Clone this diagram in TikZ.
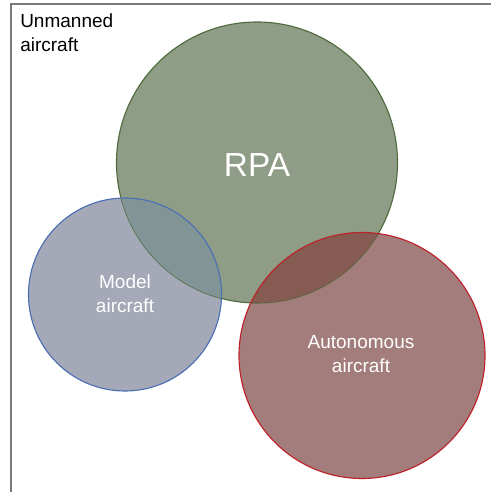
\documentclass[tikz,border=0pt]{standalone}
\usepackage{fontspec}
\setmainfont{Liberation Sans}
\begin{document}
\begin{tikzpicture}[x=0.75pt,y=-0.75pt,
  outline/.style={line width=0.85pt},
  lbl/.style={inner sep=0pt,align=center,text=white,font=\fontsize{14.25}{18}\selectfont},
  bigtxt/.style={inner sep=0pt,text=white,font=\fontsize{25}{29}\selectfont}]
  \definecolor{rpaFill}{HTML}{8F9C86}
  \definecolor{rpaLine}{HTML}{4E6B3C}
  \definecolor{modelFill}{HTML}{A5A9B7}
  \definecolor{modelLine}{HTML}{4A6FB5}
  \definecolor{autoFill}{HTML}{A37C7C}
  \definecolor{autoLine}{HTML}{BE2229}
  \definecolor{mixGreenBlue}{HTML}{7D9291}
  \definecolor{mixGreenRed}{HTML}{82574B}
  \definecolor{frameGray}{HTML}{7A7A7A}

  \useasboundingbox (0,0) rectangle (491,492);
  \clip (0,0) rectangle (491,492);

  % outer frame (runs off the right and bottom edges)
  \draw[frameGray,line width=1.5pt] (11,500) -- (11,4) -- (500,4);

  % circle fills
  \fill[rpaFill] (257,162.5) circle (140.5);
  \fill[modelFill] (125,294.5) circle (96.5);
  \fill[autoFill] (362,355.5) circle (123);

  % RPA outline sits beneath the overlap shading
  \draw[rpaLine,outline] (257,162.5) circle (140.5);

  % overlap regions
  \begin{scope}
    \clip (257,162.5) circle (140.5);
    \fill[mixGreenBlue,fill opacity=0.85] (125,294.5) circle (96.5);
    \fill[mixGreenRed,fill opacity=0.85] (362,355.5) circle (123);
  \end{scope}

  % outlines of the front circles
  \draw[modelLine,outline] (125,294.5) circle (96.5);
  \draw[autoLine,outline] (362,355.5) circle (123);

  % labels
  \node[inner sep=0pt,align=left,anchor=north west,
        font=\fontsize{14.25}{18}\selectfont] (unmanned) at (20,13.4) {Unmanned\\aircraft};
  \node[bigtxt,anchor=base] (rpa) at (257,176) {RPA};
  \node[lbl] (model) at (125,294.2) {Model\\aircraft};
  \node[lbl] (auto) at (361,354.2) {Autonomous\\aircraft};
\end{tikzpicture}
\end{document}
